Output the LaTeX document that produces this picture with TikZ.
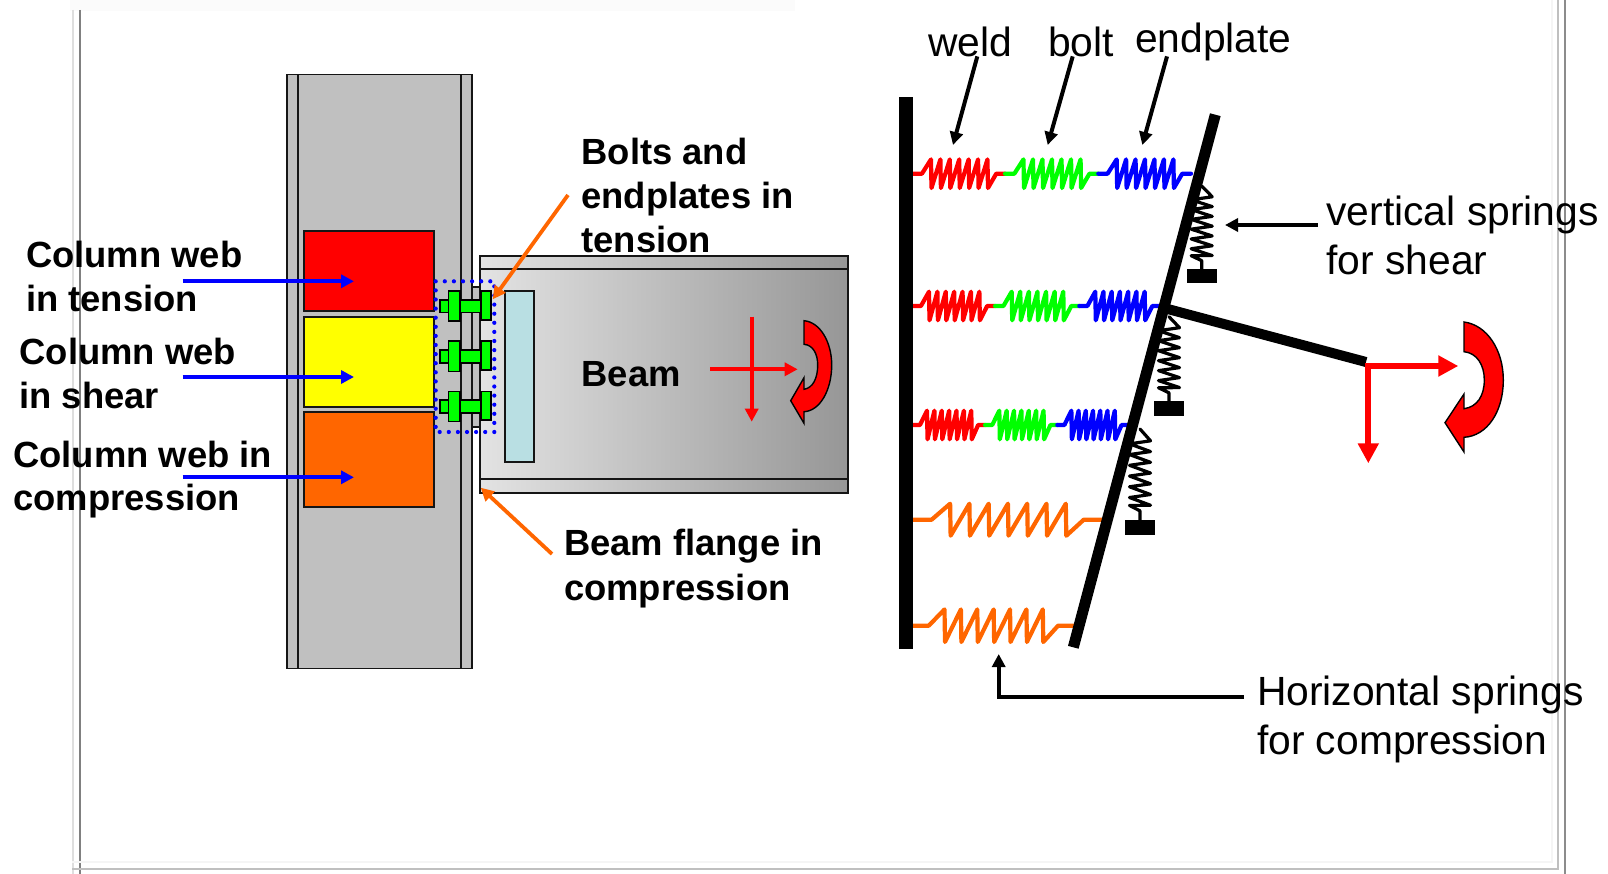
\documentclass[tikz,border=0pt]{standalone}
\usepackage{fontspec}
\setmainfont{Liberation Sans}
\usetikzlibrary{arrows.meta}
\definecolor{colgrey}{HTML}{C0C0C0}
\definecolor{edgegrey}{HTML}{151515}
\definecolor{webred}{HTML}{FF0000}
\definecolor{webyellow}{HTML}{FFFF00}
\definecolor{weborange}{HTML}{FF6600}
\definecolor{plateblue}{HTML}{B9DFE3}
\definecolor{boltgreen}{HTML}{00FF00}
\tikzset{
  x=1pt,y=-1pt,
  colbox/.style={draw=edgegrey,line width=1.8pt,fill=colgrey},
  zonebox/.style={draw=edgegrey,line width=1.8pt},
  boltbox/.style={draw=black,line width=1.6pt,fill=boltgreen},
  beambox/.style={draw=edgegrey,line width=1.8pt,left color=black!11,right color=black!41},
  solidbox/.style={fill=black},
  lab/.style={anchor=base west,inner sep=0pt,outer sep=0pt,font=\fontsize{36.4}{44}\selectfont\bfseries},
  note/.style={anchor=base west,inner sep=0pt,outer sep=0pt,font=\fontsize{40.8}{49}\selectfont},
  bluearrow/.style={draw=blue,line width=3.8pt,-{Triangle[length=13pt,width=13pt]}},
  orangearrow/.style={draw=weborange,line width=3.8pt,-{Triangle[length=13pt,width=13pt]}},
  thinred/.style={draw=red,line width=4pt,-{Triangle[length=13pt,width=13pt]}},
  thickred/.style={draw=red,line width=6pt,-{Triangle[length=20pt,width=20pt]}},
  blackarrow/.style={draw=black,line width=4pt,-{Triangle[length=13pt,width=13pt]}},
  moment/.style={draw=black,line width=1.4pt,fill=red,line join=miter},
  frameline/.style={line width=1.6pt},
}
% box node given by its corners: style, name, x1, y1, x2, y2
\newcommand{\bx}[6]{%
  \pgfmathsetmacro{\bxw}{(#5)-(#3)}\pgfmathsetmacro{\bxh}{(#6)-(#4)}%
  \pgfmathsetmacro{\bxcx}{((#3)+(#5))/2}\pgfmathsetmacro{\bxcy}{((#4)+(#6))/2}%
  \node[rectangle,inner sep=0pt,outer sep=0pt,minimum width=\bxw pt,minimum height=\bxh pt,#1] (#2) at (\bxcx,\bxcy) {};}
% horizontal spring: x0, x1, y, half height, colour
\newcommand{\hspring}[5]{%
  \pgfmathsetmacro{\sL}{#2-#1}%
  \draw[#5,line width=4.2pt,line join=round,line cap=round]
    (#1,#3) -- ({#1+0.10*\sL},#3)
    \foreach \i in {0,...,6} {
      -- ({#1+(0.198+\i*0.102)*\sL},{#3-#4}) -- ({#1+(0.198+\i*0.102)*\sL+0.5},{#3+#4})
    }
    -- ({#1+0.905*\sL},#3) -- (#2,#3);}
% vertical spring: x, y0, y1, half width
\newcommand{\vspring}[4]{%
  \pgfmathsetmacro{\sL}{#3-#2}%
  \draw[black,line width=3.2pt,line join=round,line cap=round]
    (#1,#2) -- ({#1+#4},{#2+0.13*\sL})
    \foreach \i in {0,...,5} {
      -- ({#1-#4},{#2+(0.13+\i*0.118)*\sL+3}) -- ({#1+#4},{#2+(0.13+(\i+1)*0.118)*\sL})
    }
    -- ({#1-#4},{#2+0.84*\sL}) -- ({#1},{#2+0.90*\sL}) -- (#1,#3);}
\begin{document}
\begin{tikzpicture}
\useasboundingbox (0,0) rectangle (1608,874);
% slide frame remains
\fill[black!1.5] (70,0) rectangle (795,11);
\draw[frameline,black!13] (72.7,10) -- (72.7,874);
\draw[frameline,black!50] (80,10) -- (80,874);
\draw[frameline,black!4] (1552,0) -- (1552,862) -- (72,862);
\draw[frameline,black!25] (1558,0) -- (1558,869) -- (72,869);
\draw[frameline,black!45] (1565,0) -- (1565,874);

% column
\bx{colbox}{column}{287.3}{74.5}{471.7}{668.5}
\bx{colbox}{flangeL}{287.3}{74.5}{298.3}{668.5}
\bx{colbox}{flangeR}{461}{74.5}{471.7}{668.5}
\bx{zonebox,fill=webred}{zoneT}{304.3}{231}{434.3}{311.3}
\bx{zonebox,fill=webyellow}{zoneS}{304.3}{317}{434.3}{407}
\bx{zonebox,fill=weborange}{zoneC}{304.3}{412.3}{434.3}{507}

% beam
\bx{colbox}{endplate}{471.7}{286.7}{480}{426.7}
\bx{beambox}{beam}{480}{255.7}{848}{492.7}
\draw[edgegrey,line width=1.8pt] (beam.west |- 0,268.7) -- (beam.east |- 0,268.7);
\draw[edgegrey,line width=1.8pt] (beam.west |- 0,479.3) -- (beam.east |- 0,479.3);
\bx{zonebox,fill=plateblue}{plate}{505.3}{291}{534.3}{462.3}

% bolts
\foreach \r/\d in {1/0,2/50,3/100}{
  \bx{boltbox}{nut\r}{439.7}{300+\d}{448.3}{312.7+\d}
  \bx{boltbox}{shank\r}{459.7}{300+\d}{480.7}{312.7+\d}
  \bx{boltbox}{headA\r}{448.3}{291.3+\d}{459.7}{321.3+\d}
  \bx{boltbox}{headB\r}{480.7}{291.3+\d}{490.7}{320+\d}
}
\draw[blue,line width=4.2pt,line cap=round,dash pattern=on 0pt off 9.1pt]
  (435.7,281.3) rectangle (494.3,432);

% web arrows
\coordinate (startT) at (182.5,281.3);
\coordinate (endT) at (354,281.3);
\coordinate (startS) at (182.5,377);
\coordinate (endS) at (354,377);
\coordinate (startC) at (182.5,477.3);
\coordinate (endC) at (354,477.3);
\draw[bluearrow] (startT) -- (endT);
\draw[bluearrow] (startS) -- (endS);
\draw[bluearrow] (startC) -- (endC);

% orange pointers
\coordinate (boltTail) at (568,195);
\coordinate (boltTip) at (492.7,299.3);
\coordinate (flangeTail) at (552,554);
\coordinate (flangeTip) at (480.7,487.7);
\draw[orangearrow] (boltTail) -- (boltTip);
\draw[orangearrow] (flangeTail) -- (flangeTip);

% beam forces
\coordinate (hA) at (710,369.3);
\coordinate (hB) at (797.7,369.3);
\coordinate (vA) at (751.7,316.7);
\coordinate (vB) at (751.7,421.7);
\draw[thinred] (hA) -- (hB);
\draw[thinred] (vA) -- (vB);
\draw[moment] (804,320.7) .. controls (820,322) and (831.7,342) .. (831.7,365)
  .. controls (831.7,390) and (820,411) .. (804,411.7)
  -- (804,423.3) -- (790.7,400.7) -- (804,377.7) -- (804,389.3)
  .. controls (813,388) and (817.7,378) .. (817.7,365)
  .. controls (817.7,354) and (813,345) .. (804,344.3) -- cycle;

% spring model: horizontal springs
\hspring{912.7}{1005}{173.7}{14.3}{red}
\hspring{1005}{1098.3}{173.7}{14.3}{green}
\hspring{1098.3}{1191}{173.7}{14.3}{blue}
\hspring{912.7}{995}{306}{14.3}{red}
\hspring{995}{1079.3}{306}{14.3}{green}
\hspring{1079.3}{1160}{306}{14.3}{blue}
\hspring{912.7}{985}{425}{14.3}{red}
\hspring{985}{1057.3}{425}{14.3}{green}
\hspring{1057.3}{1128.3}{425}{14.3}{blue}
\hspring{912.7}{1101.7}{519.7}{16}{weborange}
\hspring{912.7}{1073.3}{625.7}{16.3}{weborange}

% vertical springs and supports
\vspring{1201.7}{186}{269}{10.5}
\vspring{1169}{316.7}{401.3}{10.5}
\vspring{1140}{429}{520}{10.5}
\bx{solidbox}{supportA}{1186.7}{269}{1216.7}{283}
\bx{solidbox}{supportB}{1154}{401.3}{1184}{415.7}
\bx{solidbox}{supportC}{1125}{520}{1155}{535}

% rigid bars
\bx{solidbox}{wall}{899}{97.4}{912.7}{649.3}
\coordinate (barTop) at (1215.3,114.7);
\coordinate (barBot) at (1073.3,647.3);
\coordinate (armA) at (1164,308);
\coordinate (armB) at (1366,362);
\draw[black,line width=11pt] (barTop) -- (barBot);
\draw[black,line width=10pt] (armA) -- (armB);

% forces on the spring model
\coordinate (corner) at (1368.3,366);
\coordinate (cornerH) at (1458.3,366);
\coordinate (cornerV) at (1368.3,463.3);
\draw[thickred] ([xshift=-3pt]corner) -- (cornerH);
\draw[thickred] (corner) -- (cornerV);
\draw[moment] (1464,322) .. controls (1487,325) and (1503.3,350) .. (1503.3,380)
  .. controls (1503.3,412) and (1487,436) .. (1464,437.3)
  -- (1464,452) -- (1445,422.7) -- (1464,394) -- (1464,408.7)
  .. controls (1477,407) and (1484.3,396) .. (1484.3,380)
  .. controls (1484.3,365) and (1477,353) .. (1464,351.7) -- cycle;

% text labels
\node[lab] (t1a) at (26,267.2) {Column web};
\node[lab] (t1b) at (26,311.2) {in tension};
\node[lab] (t2a) at (19.5,364) {Column web};
\node[lab] (t2b) at (19.5,408) {in shear};
\node[lab] (t3a) at (13.3,467.2) {Column web in};
\node[lab] (t3b) at (13.3,510.2) {compression};
\node[lab] (t4a) at (581.5,165) {Bolts and};
\node[lab] (t4b) at (581.5,209) {endplates in};
\node[lab] (t4c) at (581.5,252.3) {tension};
\node[lab] (t5) at (581.5,386) {Beam};
\node[lab] (t6a) at (564,555.8) {Beam flange in};
\node[lab] (t6b) at (564,600) {compression};
\node[note] (weld) at (928,56.4) {weld};
\node[note] (bolt) at (1048,56.4) {bolt};
\node[note] (eplate) at (1135,52.3) {endplate};
\node[note] (vs1) at (1326.5,225.6) {vertical springs};
\node[note] (vs2) at (1326.5,274.9) {for shear};
\node[note] (hs1) at (1257,705.6) {Horizontal springs};
\node[note] (hs2) at (1257,754.8) {for compression};

% black pointers
\coordinate (weldTail) at (977.3,56.4);
\coordinate (weldTip) at (953,145);
\coordinate (boltTail2) at (1072.7,56.4);
\coordinate (boltTip2) at (1047.7,145);
\coordinate (plateTail) at (1167,56.4);
\coordinate (plateTip) at (1142.3,145);
\draw[blackarrow] (weldTail) -- (weldTip);
\draw[blackarrow] (boltTail2) -- (boltTip2);
\draw[blackarrow] (plateTail) -- (plateTip);
\coordinate (vsTail) at (1317.8,225);
\coordinate (vsTip) at (1225,225);
\draw[blackarrow] (vsTail) -- (vsTip);
\coordinate (hsTail) at (1244,697.3);
\coordinate (hsCorner) at (998.7,697.3);
\coordinate (hsTip) at (998.7,654);
\draw[blackarrow] (hsTail) -- (hsCorner) -- (hsTip);
\end{tikzpicture}
\end{document}
